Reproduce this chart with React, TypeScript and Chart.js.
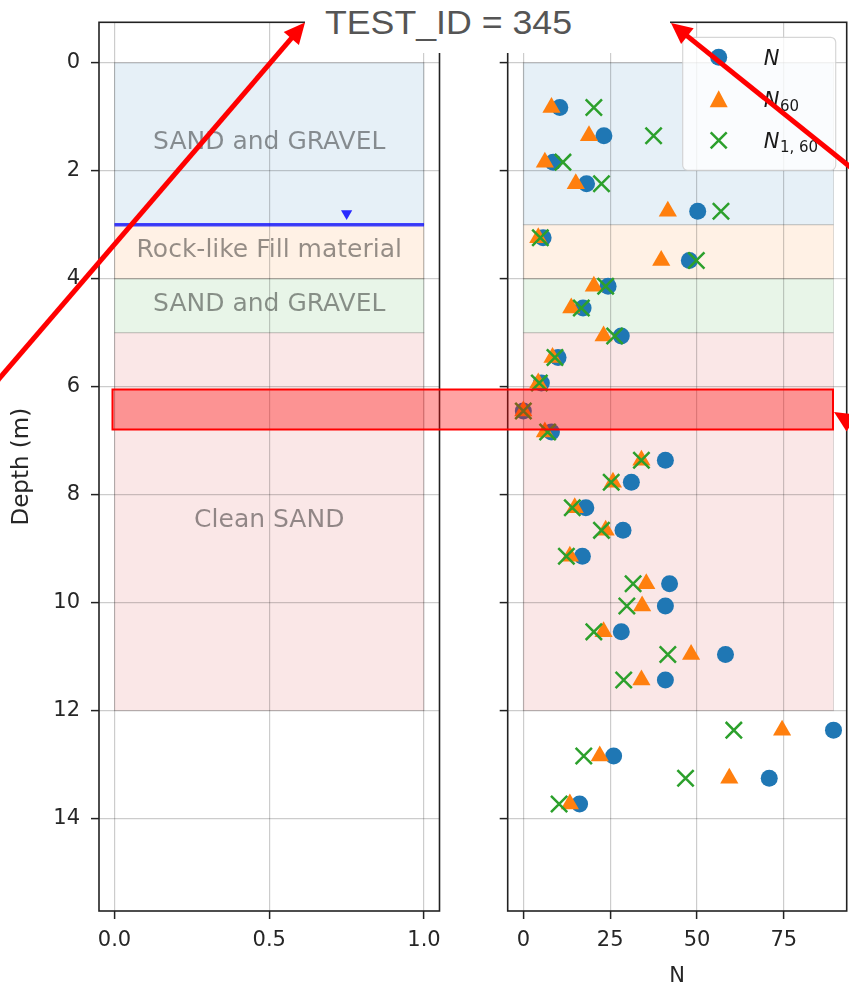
import React, { useEffect, useRef } from 'react';
import { Chart, registerables } from 'chart.js';

Chart.register(...registerables);

// ---------------- data ----------------
const depths = [0.83, 1.35, 1.84, 2.24, 2.75, 3.24, 3.66, 4.14, 4.54, 5.06, 5.46, 5.93, 6.45, 6.84, 7.36, 7.77, 8.24, 8.66, 9.14, 9.65, 10.06, 10.54, 10.96, 11.43, 12.36, 12.84, 13.25, 13.73];
const nValues = [10.5, 23.2, 8.6, 18.2, 50.2, 5.7, 47.8, 24.4, 17.2, 28.2, 10.0, 5.2, 0, 8.1, 40.9, 31.1, 18.0, 28.7, 17.0, 42.1, 40.9, 28.2, 58.2, 40.9, 89.3, 26.0, 70.8, 16.2];
const n60Values = [8.1, 18.9, 6.2, 15.1, 41.6, 4.3, 39.7, 20.3, 13.8, 23.1, 8.4, 4.3, 0, 6.2, 34.0, 25.8, 14.8, 23.7, 13.4, 35.4, 34.2, 23.1, 48.3, 34.0, 74.5, 22.0, 59.3, 13.4];
const n160Values = [20.3, 37.5, 11.4, 22.5, 56.9, 4.9, 49.8, 23.7, 16.7, 26.3, 9.1, 4.6, 0, 7.0, 34.0, 25.3, 14.1, 22.5, 12.4, 31.6, 29.8, 20.3, 41.6, 28.9, 60.6, 17.4, 46.7, 10.3];

const layerTops = [0, 3, 4, 5];
const layerBottoms = [3, 4, 5, 12];
const layerNames = ['SAND and GRAVEL', 'Rock-like Fill material', 'SAND and GRAVEL', 'Clean SAND'];
const layerColors = ['rgba(31,119,180,0.11)', 'rgba(255,127,14,0.11)', 'rgba(44,160,44,0.11)', 'rgba(214,39,40,0.11)'];

const waterTableDepth = 3.0;
const waterMarkerX = 0.75;
const waterMarkerDepth = 2.79;

const depthTicks = [0, 2, 4, 6, 8, 10, 12, 14];
const leftXTicks = [0, 0.5, 1.0];
const rightXTicks = [0, 25, 50, 75];

const legendBase = ['N', 'N', 'N'];
const legendSub = ['', '60', '1, 60'];

const titleText = 'TEST_ID = 345';

// ---------------- styling ----------------
const FONT = '"DejaVu Sans", sans-serif';
const TICK_FONT = { family: FONT, size: 21 };
const LABEL_FONT = { family: FONT, size: 23 };
const TEXT_COLOR = '#262626';
const GRID = { color: 'rgba(0,0,0,0.2)', lineWidth: 1.2, drawTicks: true, tickLength: 8, tickColor: '#222', tickWidth: 1.5 };

const setTicks = (vals: number[]) => (scale: any) => {
  scale.ticks = vals.map((v) => ({ value: v }));
};

const fixHeight = (h: number) => (s: any) => {
  s.height = h;
  s.paddingLeft = 0;
  s.paddingRight = 0;
};
const fixWidth = (w: number) => (s: any) => {
  s.width = w;
  s.paddingTop = 0;
  s.paddingBottom = 0;
};

const framePlugin = {
  id: 'frame',
  afterDraw(chart: any) {
    const { ctx, chartArea: a } = chart;
    ctx.save();
    ctx.strokeStyle = '#222';
    ctx.lineWidth = 1.6;
    ctx.strokeRect(a.left, a.top, a.right - a.left, a.bottom - a.top);
    ctx.restore();
  },
};

const makeLayerPlugin = (xMaxValue: number, showLabels: boolean, labelX: number) => ({
  id: 'layers' + (showLabels ? 'L' : 'R'),
  beforeDraw(chart: any) {
    const { ctx, scales } = chart;
    const x = scales.x, y = scales.y;
    ctx.save();
    layerTops.forEach((top, i) => {
      const x0 = x.getPixelForValue(0);
      const x1 = x.getPixelForValue(xMaxValue);
      const y0 = y.getPixelForValue(top);
      const y1 = y.getPixelForValue(layerBottoms[i]);
      ctx.fillStyle = layerColors[i];
      ctx.fillRect(x0, y0, x1 - x0, y1 - y0);
      ctx.strokeStyle = 'rgba(0,0,0,0.13)';
      ctx.lineWidth = 1;
      ctx.strokeRect(x0, y0, x1 - x0, y1 - y0);
    });
    ctx.restore();
  },
  beforeDatasetsDraw(chart: any) {
    if (!showLabels) return;
    const { ctx, scales } = chart;
    const x = scales.x, y = scales.y;
    ctx.save();
    ctx.font = `25px ${FONT}`;
    ctx.fillStyle = 'rgba(0,0,0,0.42)';
    ctx.textAlign = 'center';
    ctx.textBaseline = 'middle';
    layerTops.forEach((top, i) => {
      const cy = y.getPixelForValue((top + layerBottoms[i]) / 2) - 1;
      ctx.fillText(layerNames[i], x.getPixelForValue(labelX), cy);
    });
    ctx.restore();
  },
});

const legendPlugin = {
  id: 'legendBox',
  afterDraw(chart: any) {
    const { ctx, chartArea: a } = chart;
    const w = 153, h = 133;
    const x0 = a.right - 11 - w;
    const y0 = a.top + 15;
    ctx.save();
    ctx.beginPath();
    const r = 5;
    ctx.moveTo(x0 + r, y0);
    ctx.arcTo(x0 + w, y0, x0 + w, y0 + h, r);
    ctx.arcTo(x0 + w, y0 + h, x0, y0 + h, r);
    ctx.arcTo(x0, y0 + h, x0, y0, r);
    ctx.arcTo(x0, y0, x0 + w, y0, r);
    ctx.closePath();
    ctx.fillStyle = 'rgba(255,255,255,0.8)';
    ctx.fill();
    ctx.strokeStyle = 'rgba(204,204,204,0.8)';
    ctx.lineWidth = 1.2;
    ctx.stroke();

    const mx = x0 + 36;
    const tx = x0 + 81;
    const rows = [y0 + 20, y0 + 62, y0 + 103];
    ctx.fillStyle = '#1f77b4';
    ctx.beginPath();
    ctx.arc(mx, rows[0], 8.5, 0, Math.PI * 2);
    ctx.fill();
    ctx.fillStyle = '#ff7f0e';
    ctx.beginPath();
    ctx.moveTo(mx, rows[1] - 9);
    ctx.lineTo(mx + 9, rows[1] + 8);
    ctx.lineTo(mx - 9, rows[1] + 8);
    ctx.closePath();
    ctx.fill();
    ctx.strokeStyle = '#2ca02c';
    ctx.lineWidth = 2.5;
    ctx.beginPath();
    ctx.moveTo(mx - 8, rows[2] - 8);
    ctx.lineTo(mx + 8, rows[2] + 8);
    ctx.moveTo(mx + 8, rows[2] - 8);
    ctx.lineTo(mx - 8, rows[2] + 8);
    ctx.stroke();

    ctx.fillStyle = '#1a1a1a';
    ctx.textAlign = 'left';
    ctx.textBaseline = 'alphabetic';
    rows.forEach((ry, i) => {
      ctx.font = `italic 21px ${FONT}`;
      const base = ry + 7.5;
      ctx.fillText(legendBase[i], tx, base);
      const bw = ctx.measureText(legendBase[i]).width;
      if (legendSub[i]) {
        ctx.font = `15px ${FONT}`;
        ctx.fillText(legendSub[i], tx + bw + 0.5, base + 4);
      }
    });
    ctx.restore();
  },
};

// ---------------- overlay annotation helpers ----------------
function arrow(x1: number, y1: number, x2: number, y2: number, head = 21, half = 10) {
  const dx = x2 - x1, dy = y2 - y1;
  const len = Math.hypot(dx, dy);
  const ux = dx / len, uy = dy / len;
  const bx = x2 - ux * head, by = y2 - uy * head;
  const nx = -uy, ny = ux;
  return {
    line: [x1, y1, bx + ux * 2, by + uy * 2],
    head: `${x2},${y2} ${bx + nx * half},${by + ny * half} ${bx - nx * half},${by - ny * half}`,
  };
}

const ARROWS = [
  arrow(-20, 401, 305, 22.5),
  arrow(890, 199, 671, 23),
  arrow(900, 453, 834, 412),
];

export default function App() {
  const leftRef = useRef<HTMLCanvasElement>(null);
  const rightRef = useRef<HTMLCanvasElement>(null);

  useEffect(() => {
    const leftChart = new Chart(leftRef.current as HTMLCanvasElement, {
      type: 'scatter',
      data: {
        datasets: [
          {
            label: 'Water table',
            data: [
              { x: 0, y: waterTableDepth },
              { x: 1, y: waterTableDepth },
            ],
            showLine: true,
            borderColor: 'rgba(20,20,255,0.8)',
            borderWidth: 3.5,
            pointRadius: 0,
          } as any,
          {
            label: 'Water marker',
            data: [{ x: waterMarkerX, y: waterMarkerDepth }],
            pointStyle: 'triangle',
            rotation: 180,
            pointRadius: 6.5,
            backgroundColor: 'rgba(20,20,255,0.9)',
            borderWidth: 0,
          } as any,
        ],
      },
      options: {
        responsive: false,
        animation: false,
        events: [],
        layout: { autoPadding: false, padding: { top: 22.3, right: 20.5, left: 0, bottom: 0 } },
        plugins: { legend: { display: false }, tooltip: { enabled: false } },
        scales: {
          x: {
            type: 'linear',
            min: -0.05,
            max: 1.05,
            afterBuildTicks: setTicks(leftXTicks),
            afterFit: fixHeight(78),
            grid: GRID,
            border: { display: false },
            ticks: { font: TICK_FONT, color: TEXT_COLOR, padding: 9, autoSkip: false, maxRotation: 0, callback: (v: any) => Number(v).toFixed(1) },
          },
          y: {
            type: 'linear',
            reverse: true,
            min: -0.75,
            max: 15.71,
            afterBuildTicks: setTicks(depthTicks),
            afterFit: fixWidth(99),
            grid: GRID,
            border: { display: false },
            ticks: { font: TICK_FONT, color: TEXT_COLOR, padding: 11, autoSkip: false, callback: (v: any) => String(v) },
            title: { display: true, text: 'Depth (m)', font: LABEL_FONT, color: TEXT_COLOR, padding: { top: 8, bottom: 0 } },
          },
        },
      } as any,
      plugins: [makeLayerPlugin(1, true, 0.5), framePlugin],
    });

    const rightChart = new Chart(rightRef.current as HTMLCanvasElement, {
      type: 'scatter',
      data: {
        datasets: [
          {
            label: 'N',
            data: depths.map((d, i) => ({ x: nValues[i], y: d })),
            pointStyle: 'circle',
            pointRadius: 8.5,
            backgroundColor: '#1f77b4',
            borderWidth: 0,
            order: 3,
          },
          {
            label: 'N60',
            data: depths.map((d, i) => ({ x: n60Values[i], y: d })),
            pointStyle: 'triangle',
            pointRadius: 10.5,
            backgroundColor: '#ff7f0e',
            borderWidth: 0,
            order: 2,
          },
          {
            label: 'N1,60',
            data: depths.map((d, i) => ({ x: n160Values[i], y: d })),
            pointStyle: 'crossRot',
            pointRadius: 11.5,
            borderColor: '#2ca02c',
            backgroundColor: '#2ca02c',
            borderWidth: 2.5,
            order: 1,
          },
        ] as any,
      },
      options: {
        responsive: false,
        animation: false,
        events: [],
        layout: { autoPadding: false, padding: { top: 22.3, right: 2.3, left: 0, bottom: 0 } },
        plugins: { legend: { display: false }, tooltip: { enabled: false } },
        scales: {
          x: {
            type: 'linear',
            min: -4.5,
            max: 93.1,
            afterBuildTicks: setTicks(rightXTicks),
            afterFit: fixHeight(78),
            grid: GRID,
            border: { display: false },
            ticks: { font: TICK_FONT, color: TEXT_COLOR, padding: 9, autoSkip: false, maxRotation: 0, callback: (v: any) => String(v) },
            title: { display: true, text: 'N', font: TICK_FONT, color: TEXT_COLOR, padding: { top: 0, bottom: 0 } },
          },
          y: {
            type: 'linear',
            reverse: true,
            min: -0.75,
            max: 15.71,
            afterBuildTicks: setTicks(depthTicks),
            afterFit: fixWidth(67.7),
            grid: GRID,
            border: { display: false },
            ticks: { font: TICK_FONT, color: 'rgba(0,0,0,0)', padding: 4, autoSkip: false, callback: () => '' },
          },
        },
      } as any,
      plugins: [makeLayerPlugin(Math.max(...nValues), false, 0), framePlugin, legendPlugin],
    });

    return () => {
      leftChart.destroy();
      rightChart.destroy();
    };
  }, []);

  return (
    <div style={{ position: 'fixed', left: 0, top: 0, width: 849, height: 989, background: '#fff', overflow: 'hidden' }}>
      <canvas ref={leftRef} width={460} height={989} style={{ position: 'absolute', left: 0, top: 0 }} />
      <canvas ref={rightRef} width={409} height={989} style={{ position: 'absolute', left: 440, top: 0 }} />
      <svg width={849} height={989} style={{ position: 'absolute', left: 0, top: 0, pointerEvents: 'none' }}>
        <rect x={112.5} y={389.5} width={720.5} height={40} fill="rgba(255,0,0,0.36)" stroke="#ff0000" strokeWidth={2} />
        <rect x={305} y={0} width={365} height={53} fill="#ffffff" />
        <text x={325} y={34} fontFamily="'Liberation Sans', Arial, sans-serif" fontSize={33} fill="#555555" textLength={247} lengthAdjust="spacingAndGlyphs">
          {titleText}
        </text>
        {ARROWS.map((a, i) => (
          <g key={i}>
            <line x1={a.line[0]} y1={a.line[1]} x2={a.line[2]} y2={a.line[3]} stroke="#ff0000" strokeWidth={5} />
            <polygon points={a.head} fill="#ff0000" />
          </g>
        ))}
      </svg>
    </div>
  );
}
